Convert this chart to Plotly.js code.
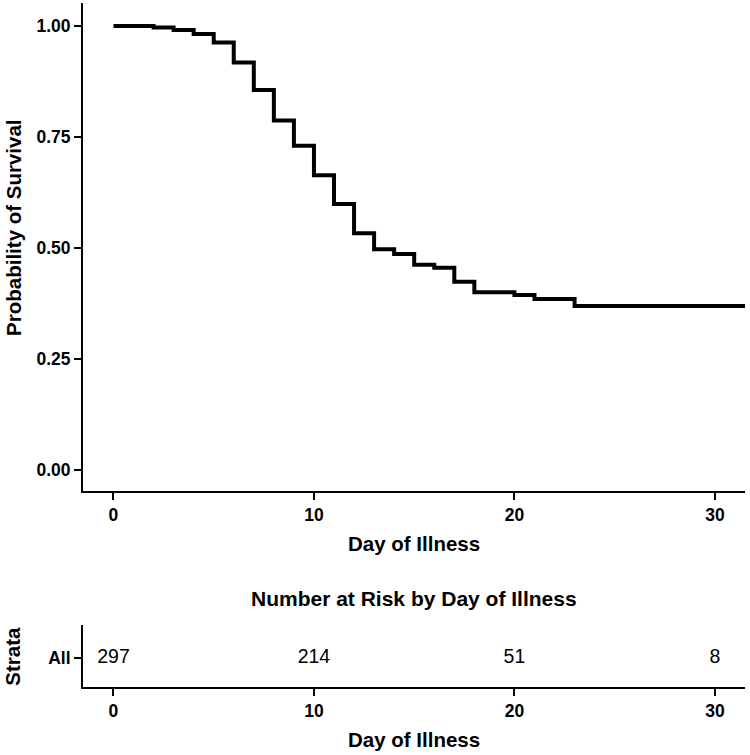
<!DOCTYPE html>
<html>
<head>
<meta charset="utf-8">
<script src="https://cdn.plot.ly/plotly-3.0.1.min.js"></script>
<style>html,body{margin:0;padding:0;background:#fff;}#chart{width:750px;height:755px;}</style>
</head>
<body>
<div id="chart"></div>
<script>
// Kaplan-Meier step points (day of illness, survival probability)
const days = [0, 2, 3, 4, 5, 6, 7, 8, 9, 10, 11, 12, 13, 14, 15, 16, 17, 18, 20, 21, 23, 32];
const survival = [1.000, 0.997, 0.991, 0.982, 0.963, 0.918, 0.856, 0.787, 0.730, 0.664, 0.599, 0.533, 0.497, 0.486, 0.462, 0.455, 0.424, 0.400, 0.394, 0.385, 0.369, 0.369];

// Number at risk table
const riskDays = [0, 10, 20, 30];
const riskCounts = [297, 214, 51, 8];
const strata = ["All"];

const xTicks = [0, 10, 20, 30];
const yTicks = [0, 0.25, 0.5, 0.75, 1.0];

const FONT = "Liberation Sans, Arial, sans-serif";
const M = {l: 83, r: 5, t: 3, b: 67.7};
const H = 755, W = 750;
const plotH = H - M.t - M.b;
const plotW = W - M.l - M.r;
const py = p => (H - M.b - p) / plotH;   // pixel y -> paper y
const px = p => (p - M.l) / plotW;       // pixel x -> paper x

const traces = [
  {
    x: days, y: survival, type: 'scatter', mode: 'lines',
    line: {shape: 'hv', color: '#000', width: 4},
    xaxis: 'x', yaxis: 'y', hoverinfo: 'x+y', showlegend: false
  },
  {
    x: riskDays, y: riskCounts.map(() => strata[0]), text: riskCounts.map(String),
    type: 'scatter', mode: 'text', textposition: 'middle center',
    textfont: {family: FONT, size: 19.5, color: '#000'},
    xaxis: 'x2', yaxis: 'y2', showlegend: false, hoverinfo: 'text'
  }
];

const axisCommon = {
  showgrid: false, zeroline: false, showline: true, linecolor: '#000', linewidth: 2,
  ticks: 'outside', ticklen: 7, tickwidth: 2, tickcolor: '#000',
  tickfont: {family: FONT, size: 17.5, color: '#000', weight: 'bold'}
};

const titleFont = {family: FONT, size: 20.5, color: '#000'};

const layout = {
  width: W, height: H,
  margin: M,
  paper_bgcolor: '#fff', plot_bgcolor: '#fff',
  showlegend: false,
  font: {family: FONT, color: '#000'},
  xaxis: Object.assign({}, axisCommon, {
    range: [-1.52, 31.5], tickvals: xTicks, ticktext: xTicks.map(String),
    anchor: 'y', domain: [0, 1]
  }),
  yaxis: Object.assign({}, axisCommon, {
    range: [-0.049, 1.052], tickvals: yTicks, ticktext: yTicks.map(v => v.toFixed(2)),
    anchor: 'x', domain: [py(491.7), 1]
  }),
  xaxis2: Object.assign({}, axisCommon, {
    range: [-1.52, 31.5], tickvals: xTicks, ticktext: xTicks.map(String),
    anchor: 'y2', domain: [0, 1]
  }),
  yaxis2: Object.assign({}, axisCommon, {
    type: 'category', categoryarray: strata, range: [-0.47, 0.53],
    anchor: 'x2', domain: [0, py(625)]
  }),
  annotations: [
    {text: '<b>Day of Illness</b>', xref: 'paper', yref: 'paper', x: 0.5, y: py(544),
     xanchor: 'center', yanchor: 'middle', showarrow: false, font: titleFont},
    {text: '<b>Day of Illness</b>', xref: 'paper', yref: 'paper', x: 0.5, y: py(740),
     xanchor: 'center', yanchor: 'middle', showarrow: false, font: titleFont},
    {text: '<b>Number at Risk by Day of Illness</b>', xref: 'paper', yref: 'paper', x: 0.5, y: py(599),
     xanchor: 'center', yanchor: 'middle', showarrow: false, font: {family: FONT, size: 21, color: '#000'}},
    {text: '<b>Probability of Survival</b>', xref: 'paper', yref: 'paper', x: px(14), y: py(228),
     xanchor: 'center', yanchor: 'middle', textangle: -90, showarrow: false, font: titleFont},
    {text: '<b>Strata</b>', xref: 'paper', yref: 'paper', x: px(13), y: py(657),
     xanchor: 'center', yanchor: 'middle', textangle: -90, showarrow: false, font: titleFont}
  ]
};

Plotly.newPlot('chart', traces, layout, {displayModeBar: false, staticPlot: true});
</script>
</body>
</html>
